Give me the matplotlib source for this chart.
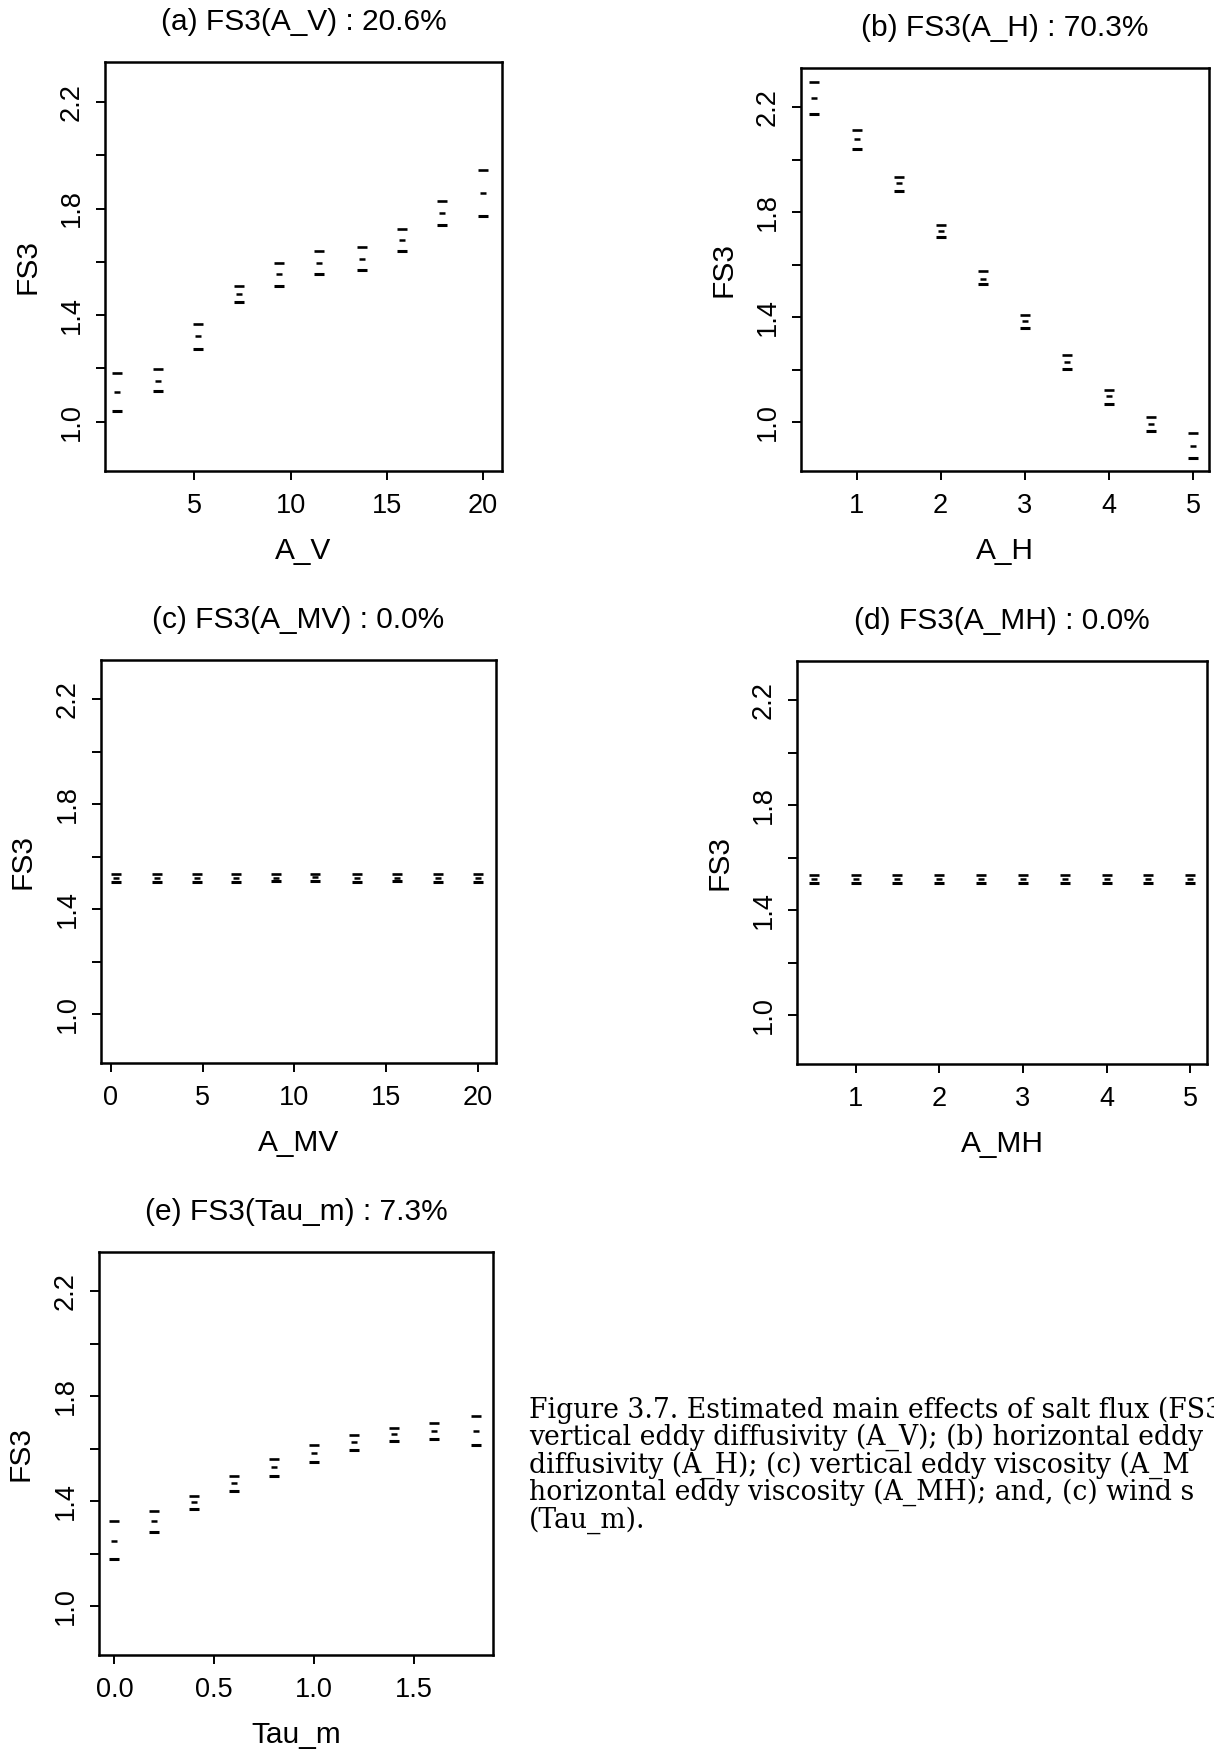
import numpy as np
import matplotlib
matplotlib.use("Agg")
from matplotlib import pyplot as plt

# estimated main effects of salt flux FS3: upper / mean / lower per factor level
av_x = [1.0, 3.1, 5.2, 7.3, 9.4, 11.5, 13.7, 15.8, 17.9, 20.0]
av_hi = [1.184, 1.199, 1.367, 1.511, 1.595, 1.641, 1.656, 1.722, 1.827, 1.945]
av_mid = [1.111, 1.154, 1.320, 1.481, 1.555, 1.595, 1.611, 1.683, 1.783, 1.857]
av_lo = [1.040, 1.114, 1.273, 1.450, 1.511, 1.555, 1.569, 1.641, 1.739, 1.771]

ah_x = [0.5, 1.0, 1.5, 2.0, 2.5, 3.0, 3.5, 4.0, 4.5, 5.0]
ah_hi = [2.295, 2.114, 1.935, 1.751, 1.575, 1.408, 1.256, 1.125, 1.020, 0.959]
ah_mid = [2.234, 2.078, 1.911, 1.730, 1.548, 1.385, 1.232, 1.102, 0.993, 0.911]
ah_lo = [2.173, 2.042, 1.881, 1.707, 1.526, 1.360, 1.204, 1.072, 0.966, 0.863]

amv_x = [0.3, 2.5, 4.7, 6.8, 9.0, 11.1, 13.4, 15.6, 17.8, 20.0]
amv_hi = [1.534, 1.534, 1.533, 1.535, 1.535, 1.536, 1.535, 1.535, 1.534, 1.535]
amv_mid = [1.520, 1.521, 1.520, 1.521, 1.521, 1.522, 1.521, 1.521, 1.520, 1.521]
amv_lo = [1.506, 1.506, 1.505, 1.506, 1.507, 1.507, 1.506, 1.507, 1.506, 1.506]

amh_x = [0.5, 1.0, 1.5, 2.0, 2.5, 3.0, 3.5, 4.0, 4.5, 5.0]
amh_hi = [1.534, 1.535, 1.534, 1.535, 1.535, 1.535, 1.535, 1.535, 1.534, 1.535]
amh_mid = [1.519, 1.520, 1.519, 1.520, 1.520, 1.520, 1.520, 1.520, 1.519, 1.520]
amh_lo = [1.503, 1.504, 1.503, 1.504, 1.504, 1.504, 1.503, 1.504, 1.503, 1.504]

tau_x = [0.0, 0.2, 0.4, 0.6, 0.8, 1.0, 1.2, 1.4, 1.6, 1.81]
tau_hi = [1.325, 1.362, 1.421, 1.495, 1.563, 1.616, 1.654, 1.681, 1.697, 1.724]
tau_mid = [1.251, 1.325, 1.396, 1.471, 1.532, 1.586, 1.627, 1.657, 1.667, 1.667]
tau_lo = [1.179, 1.285, 1.372, 1.439, 1.498, 1.549, 1.597, 1.629, 1.636, 1.616]

yticks = [1.0, 1.2, 1.4, 1.6, 1.8, 2.0, 2.2]
ylabels = ["1.0", "", "1.4", "", "1.8", "", "2.2"]

caption = ["Figure 3.7. Estimated main effects of salt flux (FS3",
           "vertical eddy diffusivity (A_V); (b) horizontal eddy",
           "diffusivity (A_H); (c) vertical eddy viscosity (A_M",
           "horizontal eddy viscosity (A_MH); and, (c) wind s",
           "(Tau_m)."]

W, H = 1214, 1750
plt.rcParams['font.family'] = ['Liberation Sans', 'DejaVu Sans']
fig = plt.figure(figsize=(W / 100, H / 100), dpi=100)


def panel(box, title, xlab, x, hi, mid, lo, xlim, xticks, xticklabels):
    l, r, t, b = box
    ax = fig.add_axes([l / W, 1 - b / H, (r - l) / W, (b - t) / H])
    ax.plot(x, hi, ls="none", marker="_", ms=7.5, mew=1.9, color="black")
    ax.plot(x, mid, ls="none", marker="_", ms=5, mew=1.8, color="black")
    ax.plot(x, lo, ls="none", marker="_", ms=7.5, mew=2.2, color="black")
    ax.set_xlim(xlim)
    ax.set_ylim(0.815, 2.35)
    ax.set_xticks(xticks)
    ax.set_xticklabels(xticklabels)
    ax.set_yticks(yticks)
    ax.set_yticklabels(ylabels, rotation=90, va="center")
    ax.tick_params(direction="out", length=6.5, width=1.4, labelsize=19.5, pad=9)
    ax.tick_params(axis="y", pad=8)
    for s in ax.spines.values():
        s.set_linewidth(1.8)
    h = b - t
    ax.text(0.5, 1 + 40 / h, title, transform=ax.transAxes, ha="center",
            va="center", fontsize=21.5)
    ax.set_xlabel(xlab, fontsize=21.5, va="center")
    ax.xaxis.set_label_coords(0.5, -80 / h)
    ax.set_ylabel("FS3", fontsize=21.5, va="center")
    ax.yaxis.set_label_coords(-78 / (r - l), 0.5)
    return ax


panel((105, 502, 62, 471), "(a) FS3(A_V) : 20.6%", "A_V",
      av_x, av_hi, av_mid, av_lo, (0.35, 21.0), [5, 10, 15, 20], ["5", "10", "15", "20"])
panel((801, 1209, 68, 471), "(b) FS3(A_H) : 70.3%", "A_H",
      ah_x, ah_hi, ah_mid, ah_lo, (0.34, 5.19), [1, 2, 3, 4, 5], ["1", "2", "3", "4", "5"])
panel((101, 496, 660, 1063), "(c) FS3(A_MV) : 0.0%", "A_MV",
      amv_x, amv_hi, amv_mid, amv_lo, (-0.54, 20.98), [0, 5, 10, 15, 20], ["0", "5", "10", "15", "20"])
panel((797, 1207, 661, 1064), "(d) FS3(A_MH) : 0.0%", "A_MH",
      amh_x, amh_hi, amh_mid, amh_lo, (0.3, 5.2), [1, 2, 3, 4, 5], ["1", "2", "3", "4", "5"])
panel((99, 493, 1252, 1655), "(e) FS3(Tau_m) : 7.3%", "Tau_m",
      tau_x, tau_hi, tau_mid, tau_lo, (-0.077, 1.895), [0.0, 0.5, 1.0, 1.5], ["0.0", "0.5", "1.0", "1.5"])

# caption font size chosen so the first line runs to the right edge of the page
renderer = fig.canvas.get_renderer()
probe = fig.text(0, 0, caption[0][:-1], fontsize=10, family="DejaVu Serif")
w10 = probe.get_window_extent(renderer).width
probe.remove()
cap_size = 10 * (1205 - 529) / w10

for i, line in enumerate(caption):
    fig.text(529 / W, 1 - (1410 + i * 27.5) / H, line, ha="left", va="center",
             fontsize=cap_size, family="DejaVu Serif")

fig.savefig("out.png", dpi=100)
